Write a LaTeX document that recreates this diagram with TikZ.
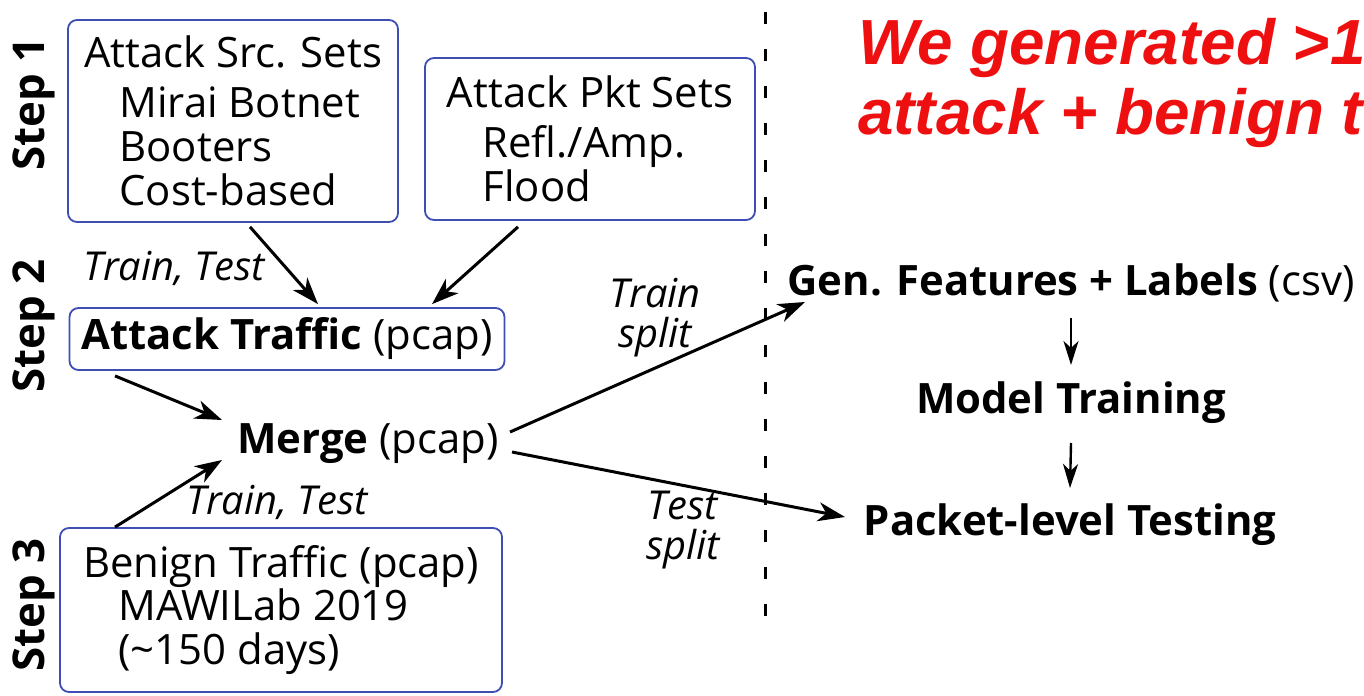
\documentclass[tikz,border=0pt]{standalone}
\usepackage{fontspec}
\setmainfont{Open Sans}
\newfontfamily\notefont{Liberation Sans}
\usetikzlibrary{arrows.meta,calc}

\definecolor{boxblue}{RGB}{62,78,178}
\definecolor{notered}{RGB}{238,16,16}

\newcommand{\bigsz}{\fontsize{42}{44}\selectfont}
\newcommand{\lblsz}{\fontsize{40}{40}\selectfont}

\tikzset{
  setbox/.style={draw=boxblue, line width=1.8bp, rounded corners=9bp, align=left, inner sep=0pt, font=\bigsz},
  steplbl/.style={rotate=90, font=\fontsize{44}{46}\selectfont\bfseries},
  splitlbl/.style={font=\lblsz\itshape, align=center, inner sep=0pt},
  stage/.style={font=\bigsz, inner sep=0pt},
  flow/.style={-{Stealth[length=27bp,width=19bp,inset=8bp]}, line width=3bp},
  thinflow/.style={-{Stealth[length=24bp,width=15bp,inset=7bp]}, line width=2.4bp},
  notetxt/.style={font=\notefont\bfseries\itshape\fontsize{64}{70}\selectfont, text=notered, inner sep=0pt, anchor=base west}
}

\begin{document}
\begin{tikzpicture}[x=1bp,y=-1bp]
\useasboundingbox (0,0) rectangle (1364,695);

% step 1
\node[setbox, minimum width=330bp, minimum height=202bp] (srcsets) at (233,121)
  {Attack Src. Sets\\[6bp]\hspace*{0.85em}Mirai Botnet\\\hspace*{0.85em}Booters\\\hspace*{0.85em}Cost-based};
\node[setbox, minimum width=330bp, minimum height=162bp] (pktsets) at (590,139)
  {Attack Pkt Sets\\[6bp]\hspace*{0.85em}Refl./Amp.\\\hspace*{0.85em}Flood};

% step 2
\node[setbox, minimum width=435bp, minimum height=62bp] (atktraffic) at (287,339)
  {\textbf{Attack Traffic} (pcap)};
\node[splitlbl] (trtest1) at (174,268) {Train, Test};
\node[stage] (merge) at (368,444) {\textbf{Merge} (pcap)};

% step 3
\node[setbox, minimum width=442bp, minimum height=164bp] (benign) at (281,610)
  {Benign Traffic (pcap)\\\hspace*{0.85em}MAWILab 2019\\\hspace*{0.85em}(\textasciitilde150 days)};
\node[splitlbl] (trtest2) at (277,502) {Train, Test};

\node[steplbl] (step1) at (34,104) {Step 1};
\node[steplbl] (step2) at (34,326) {Step 2};
\node[steplbl] (step3) at (34,605) {Step 3};

% right side
\node[stage] (genfeat) at (1071,283) {\textbf{Gen. Features + Labels} (csv)};
\node[stage] (training) at (1071,403) {\textbf{Model Training}};
\node[stage] (testing) at (1070,525) {\textbf{Packet-level Testing}};

\node[splitlbl] (trsplit) at (655,318) {Train\\split};
\node[splitlbl] (tesplit) at (683,530) {Test\\split};

\draw[dashed, dash pattern=on 12bp off 25bp, line width=3bp] (765,12) -- (765,640);

\draw[flow] ($(srcsets.south)+(17,4)$) -- ($(atktraffic.north)+(31,-3)$);
\draw[flow] ($(pktsets.south)+(-72,6)$) -- ($(atktraffic.north)+(145,-3)$);
\draw[flow] ($(atktraffic.south)+(-172,5)$) -- ($(merge)+(-146,-24)$);
\draw[flow] ($(benign.north)+(-166,0)$) -- ($(merge)+(-146,16)$);
\draw[flow] ($(merge)+(142,-12)$) -- ($(genfeat)+(-266,19)$);
\draw[flow] ($(merge)+(144,8)$) -- ($(testing)+(-225,-8)$);
\draw[thinflow] ($(genfeat)+(0,35)$) -- ($(training)+(0,-38)$);
\draw[thinflow] ($(training)+(0,40)$) -- ($(testing)+(0,-37)$);

\node[notetxt] (note1) at (858,65) {We generated >1};
\node[notetxt] (note2) at (858,135) {attack + benign t};
\end{tikzpicture}
\end{document}
